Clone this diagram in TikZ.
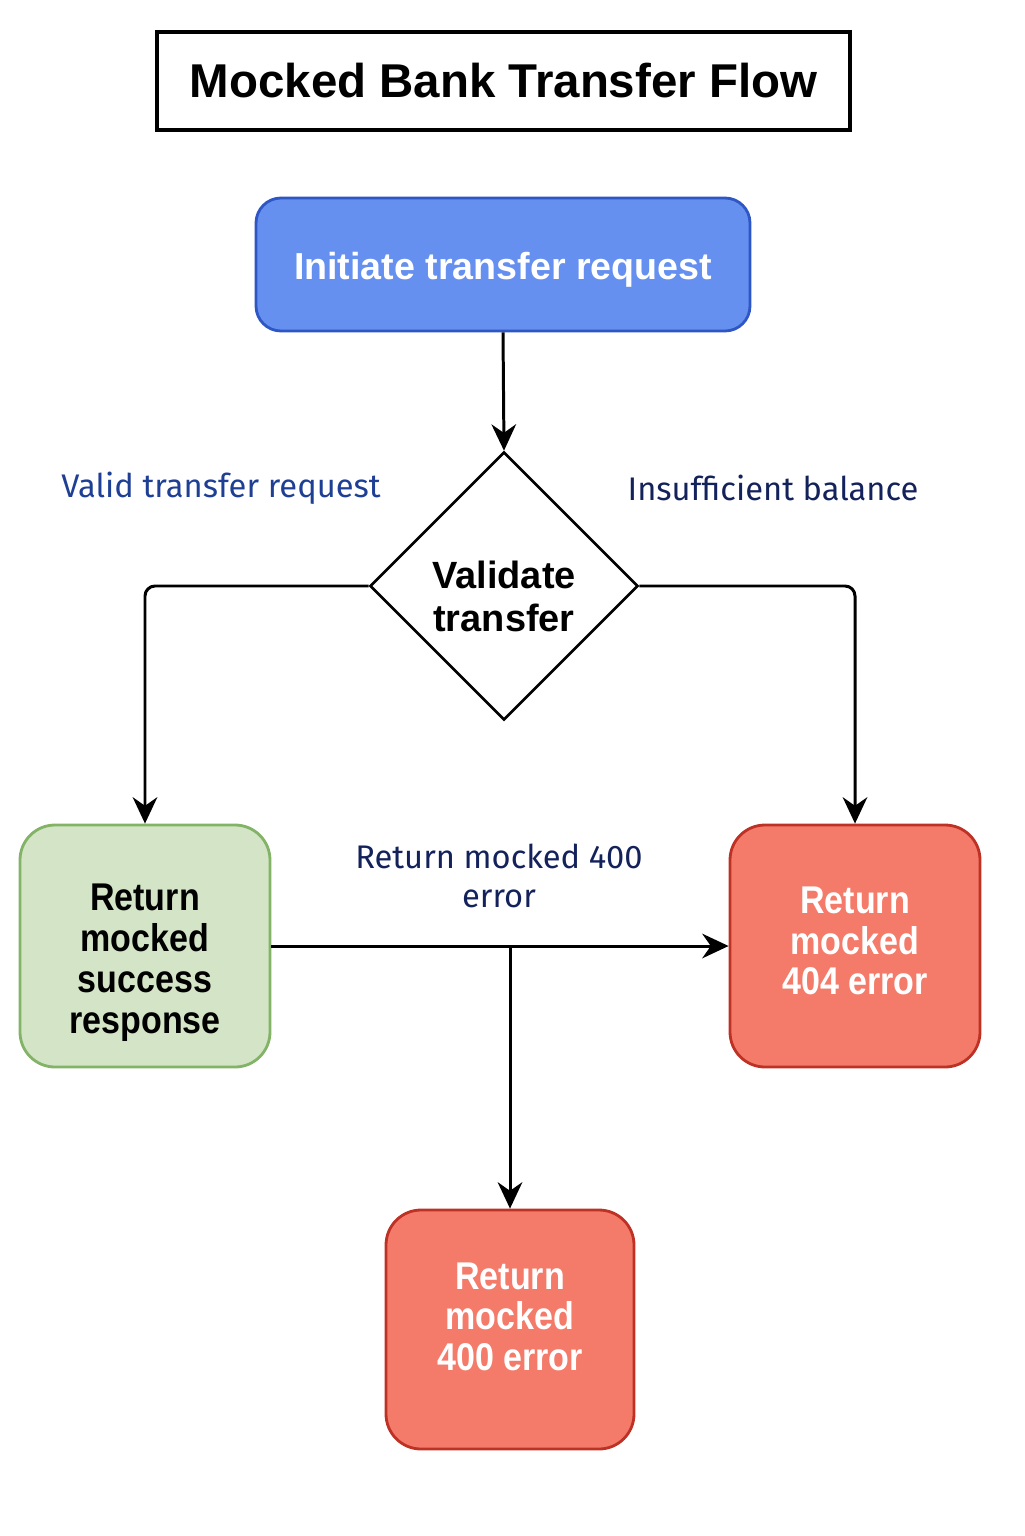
\documentclass[tikz,border=0pt]{standalone}
\usepackage{fontspec}
\setmainfont{Liberation Sans}
\newfontfamily\narrowfont[FakeStretch=0.88]{Liberation Sans}
\newfontfamily\lblfont{Fira Sans}
\usetikzlibrary{arrows.meta,positioning,shapes.geometric}
\definecolor{Bf}{RGB}{102, 144, 240}
\definecolor{Bd}{RGB}{46, 86, 196}
\definecolor{Gf}{RGB}{211, 229, 198}
\definecolor{Gd}{RGB}{130, 179, 102}
\definecolor{Rf}{RGB}{244, 122, 106}
\definecolor{Rd}{RGB}{190, 50, 38}
\definecolor{L1}{RGB}{30, 63, 147}
\definecolor{L2}{RGB}{20, 34, 92}

\begin{document}
\begin{tikzpicture}[
	caja/.style={rounded corners=0.35cm, line width=0.8pt, minimum width=2.5cm, minimum height=2.42cm, align=center, font=\narrowfont\bfseries\fontsize{11}{11.6}\selectfont},
	etiqueta/.style={font=\lblfont\fontsize{9.3}{11.3}\selectfont, align=center},
	flecha/.style={line width=0.85pt, -{Stealth[length=7.5pt,width=7pt]}}
	]
	\useasboundingbox (0,0) rectangle (10.24,-15.36);

	%Titulo
	\node[draw, line width=1pt, minimum width=6.93cm, minimum height=0.98cm, font=\bfseries\fontsize{13.5}{16}\selectfont] (titulo) at (5.035,-0.81) {Mocked Bank Transfer Flow};

	%Inicio y decision
	%(los \rule sin ancho solo bajan o suben el texto dentro de la caja)
	\node[draw=Bd, fill=Bf, text=white, rounded corners=0.25cm, line width=0.8pt, minimum width=4.94cm, minimum height=1.33cm, font=\bfseries\fontsize{10.7}{13}\selectfont] (inicio) at (5.03,-2.645) {\rule{0pt}{10.5pt}Initiate transfer request};
	\node[draw, diamond, line width=0.75pt, inner sep=0pt, minimum width=2.68cm, minimum height=2.68cm, align=center, font=\bfseries\fontsize{10.8}{12.2}\selectfont] (valida) at (5.04,-5.86) {\rule{0pt}{14pt}Validate\\transfer};

	%Respuestas
	\node[caja, draw=Gd, fill=Gf] (exito) at (1.45,-9.46) {\rule{0pt}{17pt}Return\\mocked\\success\\response};
	\node[caja, draw=Rd, fill=Rf, text=white] (err404) at (8.55,-9.46) {Return\\mocked\\404 error\rule[-3pt]{0pt}{3pt}};
	\node[caja, draw=Rd, fill=Rf, text=white, minimum width=2.48cm, minimum height=2.39cm] (err400) at (5.10,-13.295) {Return\\mocked\\400 error\rule[-7.4pt]{0pt}{7.4pt}};

	%Etiquetas
	\node[etiqueta, text=L1] (lvalida) at (2.21,-4.88) {Valid transfer request};
	\node[etiqueta, text=L2] (lsaldo) at (7.73,-4.88) {Insufficient balance};
	\node[etiqueta, text=L2] (l400) at (4.99,-8.76) {Return mocked 400\\error};

	%Conectores
	\draw[flecha] (inicio.south) -- (valida.north);
	\draw[flecha, rounded corners=0.1cm] (valida.west) -| (exito.north);
	\draw[flecha, rounded corners=0.1cm] (valida.east) -| (err404.north);
	\draw[flecha] (exito.east) -- (exito.east -| err404.west);
	\coordinate (cruce) at (err400.north |- exito.east);
	\draw[flecha] (cruce) -- (err400.north);
\end{tikzpicture}
\end{document}
